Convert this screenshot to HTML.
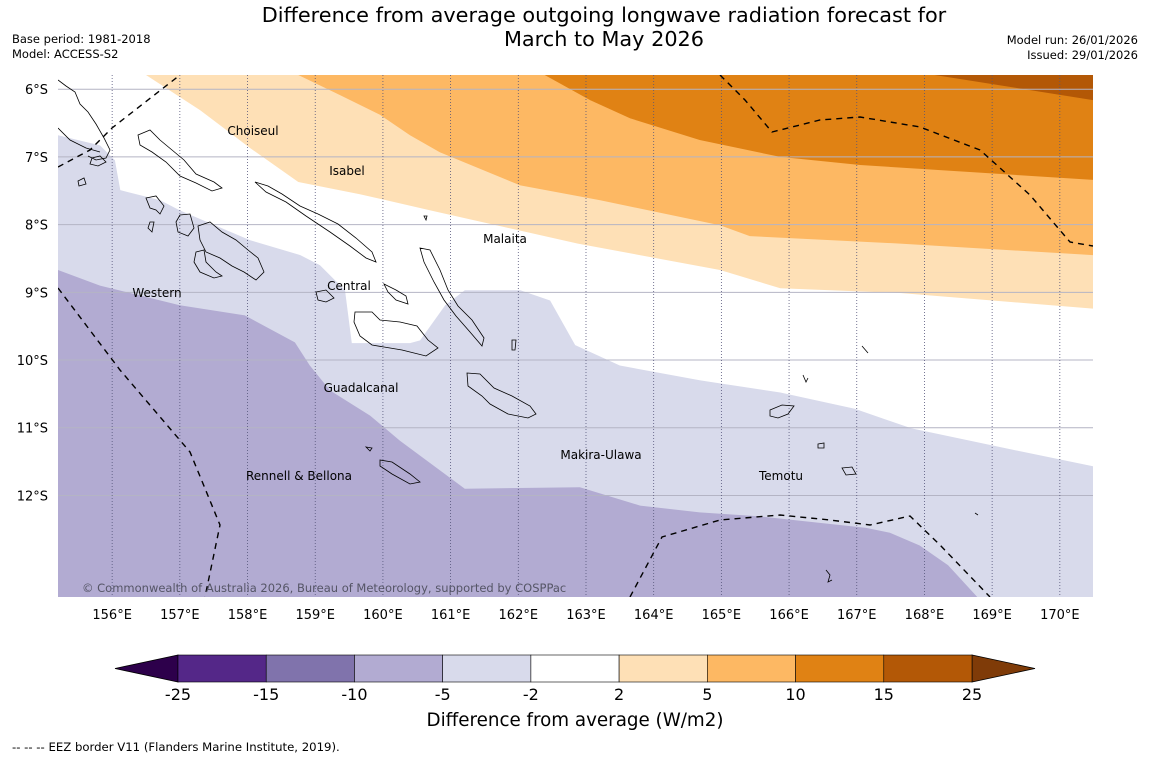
<!DOCTYPE html>
<html><head><meta charset="utf-8">
<style>
html,body{margin:0;padding:0;background:#fff;}
body{width:1150px;height:758px;overflow:hidden;font-family:"DejaVu Sans","Liberation Sans",sans-serif;}
svg text{font-family:"DejaVu Sans","Liberation Sans",sans-serif;}
</style></head>
<body>
<svg id="chart" width="1150" height="758" xmlns="http://www.w3.org/2000/svg">
  <text x="604" y="22" font-size="20.8" text-anchor="middle">Difference from average outgoing longwave radiation forecast for</text>
  <text x="604" y="46" font-size="20.8" text-anchor="middle">March to May 2026</text>
  <text x="12" y="43" font-size="11.5">Base period: 1981-2018</text>
  <text x="12" y="58" font-size="11.5">Model: ACCESS-S2</text>
  <text x="1138" y="44" font-size="11.5" text-anchor="end">Model run: 26/01/2026</text>
  <text x="1138" y="59" font-size="11.5" text-anchor="end">Issued: 29/01/2026</text>
  <defs><clipPath id="mapclip"><rect x="58" y="75" width="1035" height="522"/></clipPath></defs>
  <g id="map" clip-path="url(#mapclip)"></g>
  <g id="axes"></g>
  <g id="cbar"></g>
  <text x="575" y="726" font-size="18.3" text-anchor="middle">Difference from average (W/m2)</text>
  <text x="12" y="751" font-size="11.7">--  --  -- EEZ border V11 (Flanders Marine Institute, 2019).</text>
</svg>
<script>
// ---- data ----
const lonTicks = [156,157,158,159,160,161,162,163,164,165,166,167,168,169,170];
const latTicks = [6,7,8,9,10,11,12];
const cbarLevels = [-25,-15,-10,-5,-2,2,5,10,15,25];
const cbarColors = ["#542788","#8073ac","#b2abd2","#d8daeb","#ffffff","#fee0b6","#fdb863","#e08214","#b35806"];
const extendLow = "#2d004b";
const extendHigh = "#7f3b08";
// contour boundaries [lonE, latS]
const contourPlus2 = [[156.50,5.79],[157.30,6.31],[158.04,6.87],[158.75,7.37],[159.66,7.55],[160.70,7.79],[162.88,8.28],[164.98,8.67],[165.87,8.94],[167.64,9.01],[170.49,9.24]];
const contourPlus5 = [[158.75,5.79],[159.37,6.09],[159.96,6.38],[160.40,6.68],[160.84,6.93],[162.03,7.42],[163.21,7.64],[164.98,8.01],[165.42,8.17],[167.64,8.28],[170.49,8.45]];
const contourPlus10 = [[162.39,5.79],[163.06,6.16],[163.65,6.43],[164.68,6.75],[165.87,7.00],[167.05,7.12],[170.49,7.34]];
const contourPlus15 = [[168.15,5.79],[169.11,5.94],[170.49,6.16]];
const contourMinus2 = [[155.20,6.68],[155.82,6.83],[156.04,7.05],[156.12,7.49],[156.71,7.64],[157.00,7.79],[158.04,8.23],[158.78,8.45],[159.07,8.60],[159.44,8.97],[159.54,9.75],[160.40,9.75],[160.55,9.71],[160.92,9.19],[161.21,8.97],[162.03,8.97],[162.47,9.12],[162.84,9.78],[163.50,10.08],[164.68,10.30],[165.87,10.48],[166.97,10.72],[167.81,11.01],[169.14,11.29],[170.49,11.57]];
const contourMinus5 = [[155.20,8.67],[155.82,8.90],[157.00,9.19],[157.96,9.34],[158.70,9.74],[158.92,10.08],[159.22,10.45],[159.81,10.82],[160.25,11.19],[161.21,11.90],[162.91,11.88],[163.80,12.15],[164.68,12.25],[165.57,12.31],[167.14,12.48],[167.49,12.55],[167.93,12.74],[168.35,13.03],[168.79,13.51]];
// ---- axes functions ----
const LON0=155.2, LON1=170.49, LAT0=5.79, LAT1=13.5;
const X0=58, X1=1093, Y0=75, Y1=597;
function xs(lon){return X0+(lon-LON0)*(X1-X0)/(LON1-LON0);}
function ys(lat){return Y0+(lat-LAT0)*(Y1-Y0)/(LAT1-LAT0);}
const NS="http://www.w3.org/2000/svg";
function mk(tag,attrs,parent){const e=document.createElementNS(NS,tag);for(const k in attrs)e.setAttribute(k,attrs[k]);parent.appendChild(e);return e;}
function pts(arr){return arr.map(p=>xs(p[0]).toFixed(1)+","+ys(p[1]).toFixed(1)).join(" ");}
const map=document.getElementById('map');
let el;
el=mk('rect',{x:X0,y:Y0,width:X1-X0,height:Y1-Y0,fill:'#ffffff'},map);


function upper(arr,color,name){
  const p=pts(arr)+" "+xs(LON1)+","+ys(LAT0)+" "+xs(arr[0][0])+","+ys(LAT0);
  const e=mk('polygon',{points:p,fill:color},map);
  
  
}
upper(contourPlus2,cbarColors[5],'band-2-to-5');
upper(contourPlus5,cbarColors[6],'band-5-to-10');
upper(contourPlus10,cbarColors[7],'band-10-to-15');
upper(contourPlus15,cbarColors[8],'band-15-to-25');
el=mk('polygon',{points:pts(contourMinus2)+" "+xs(LON1)+","+ys(LAT1)+" "+xs(LON0)+","+ys(LAT1),fill:cbarColors[3]},map);


el=mk('polygon',{points:pts(contourMinus5)+" "+xs(LON0)+","+ys(LAT1),fill:cbarColors[2]},map);


latTicks.forEach(l=>{
  const e=mk('line',{x1:X0,x2:X1,y1:ys(l),y2:ys(l),stroke:'#b4b4c4','stroke-width':1},map);
  
  
});
lonTicks.forEach(l=>{
  const e=mk('line',{x1:xs(l),x2:xs(l),y1:Y0,y2:Y1,stroke:'#55557a','stroke-width':0.8,'stroke-dasharray':'1,2'},map);
  
  
});
const coasts=[
 "M58,80 L66,86 L75,92 L80,104 L88,112 L96,124 L104,138 L110,150 L106,158 L96,160 L88,156",
 "M58,128 L70,140 L86,148 L100,152",
 "M92,158 L100,156 L106,162 L98,166 L90,164 Z",
 "M78,181 L84,178 L86,184 L79,186 Z",
 "M138,135 L150,130 L160,140 L172,150 L184,160 L196,174 L214,182 L222,188 L212,191 L196,183 L180,176 L166,162 L152,152 L140,145 Z",
 "M255,182 L268,186 L282,194 L300,206 L318,214 L338,224 L356,238 L372,252 L376,262 L366,258 L350,246 L330,232 L306,216 L286,202 L266,192 Z",
 "M146,198 L156,196 L164,206 L160,214 L156,210 L150,208 Z",
 "M180,215 L190,214 L194,228 L188,236 L178,232 L176,222 Z",
 "M198,226 L210,222 L222,232 L236,240 L248,250 L258,258 L264,272 L256,280 L244,272 L232,266 L220,258 L206,252 L200,240 Z",
 "M196,252 L204,250 L206,262 L216,272 L222,276 L214,278 L200,272 L194,262 Z",
 "M150,222 L154,222 L152,232 L148,228 Z",
 "M420,248 L430,250 L440,270 L448,290 L458,306 L472,320 L484,338 L482,346 L470,332 L456,316 L444,300 L434,282 L424,262 Z",
 "M316,292 L326,290 L334,298 L326,302 L318,300 Z",
 "M384,284 L396,290 L406,296 L408,304 L396,300 L388,292 Z",
 "M355,312 L372,312 L380,320 L400,322 L417,326 L428,340 L438,348 L426,356 L402,350 L372,345 L360,336 L354,322 Z",
 "M467,373 L480,374 L494,388 L512,396 L530,406 L536,414 L528,418 L508,414 L490,404 L482,396 L468,386 Z",
 "M380,460 L392,462 L410,474 L420,482 L410,484 L392,474 L380,466 Z",
 "M366,447 L372,448 L370,451 Z",
 "M512,340 L516,340 L515,350 L512,350 Z",
 "M770,410 L782,405 L794,406 L788,414 L778,418 L770,416 Z",
 "M818,444 L824,443 L824,448 L818,448 Z",
 "M842,468 L852,467 L856,474 L846,475 Z",
 "M803,375 L806,382 L808,378",
 "M862,346 L868,353",
 "M826,570 L830,575 L828,582 L832,580",
 "M424,216 L427,216 L426,220 Z",
 "M975,513 L978,515"
];
coasts.forEach(d=>{
  const e=mk('path',{d:d,fill:'none',stroke:'#000','stroke-width':0.8},map);
  
  
});
const eez=[
 "M58,167 L90,150 L112,128 L180,75",
 "M58,288 L120,370 L190,452 L220,525 L205,597",
 "M630,597 L662,537 L720,520 L780,515 L830,520 L870,525 L910,516 L940,545 L990,597",
 "M720,75 L745,100 L772,132 L820,120 L860,117 L920,127 L980,150 L1030,195 L1070,242 L1093,246"
];
eez.forEach(d=>{
  const e=mk('path',{d:d,fill:'none',stroke:'#000','stroke-width':1.4,'stroke-dasharray':'6,5'},map);
  
  
});
const labels=[["Choiseul",253,135],["Isabel",347,175],["Malaita",505,243],["Central",349,290],["Western",157,297],["Guadalcanal",361,392],["Makira-Ulawa",601,459],["Rennell & Bellona",299,480],["Temotu",781,480]];
labels.forEach(l=>{
  const t=mk('text',{x:l[1],y:l[2],'font-size':12,'text-anchor':'middle'},map);
  t.textContent=l[0];
  
  
});
el=mk('text',{x:82,y:592,'font-size':11.5,fill:'#555566'},map);
el.textContent="© Commonwealth of Australia 2026, Bureau of Meteorology, supported by COSPPac";


const axes=document.getElementById('axes');
lonTicks.forEach(l=>{
  const t=mk('text',{x:xs(l),y:619,'font-size':13,'text-anchor':'middle'},axes);
  t.textContent=l+"°E";
  
  
});
latTicks.forEach(l=>{
  const t=mk('text',{x:48,y:ys(l)+5,'font-size':13,'text-anchor':'end'},axes);
  t.textContent=l+"°S";
  
  
});
const cb=document.getElementById('cbar');
const CX0=178, CX1=972, CY0=655, CY1=682, n=cbarColors.length, w=(CX1-CX0)/n;
el=mk('polygon',{points:`115,${(CY0+CY1)/2} ${CX0},${CY0} ${CX0},${CY1}`,fill:extendLow,stroke:'#000','stroke-width':0.8},cb);


el=mk('polygon',{points:`1035,${(CY0+CY1)/2} ${CX1},${CY0} ${CX1},${CY1}`,fill:extendHigh,stroke:'#000','stroke-width':0.8},cb);


cbarColors.forEach((c,i)=>{
  const r=mk('rect',{x:CX0+i*w,y:CY0,width:w,height:CY1-CY0,fill:c,stroke:'#000','stroke-width':0.6},cb);
  
  
});
cbarLevels.forEach((v,i)=>{
  const t=mk('text',{x:CX0+i*w,y:700,'font-size':16,'text-anchor':'middle'},cb);
  t.textContent=v;
  
  
});
</script>
</body></html>
